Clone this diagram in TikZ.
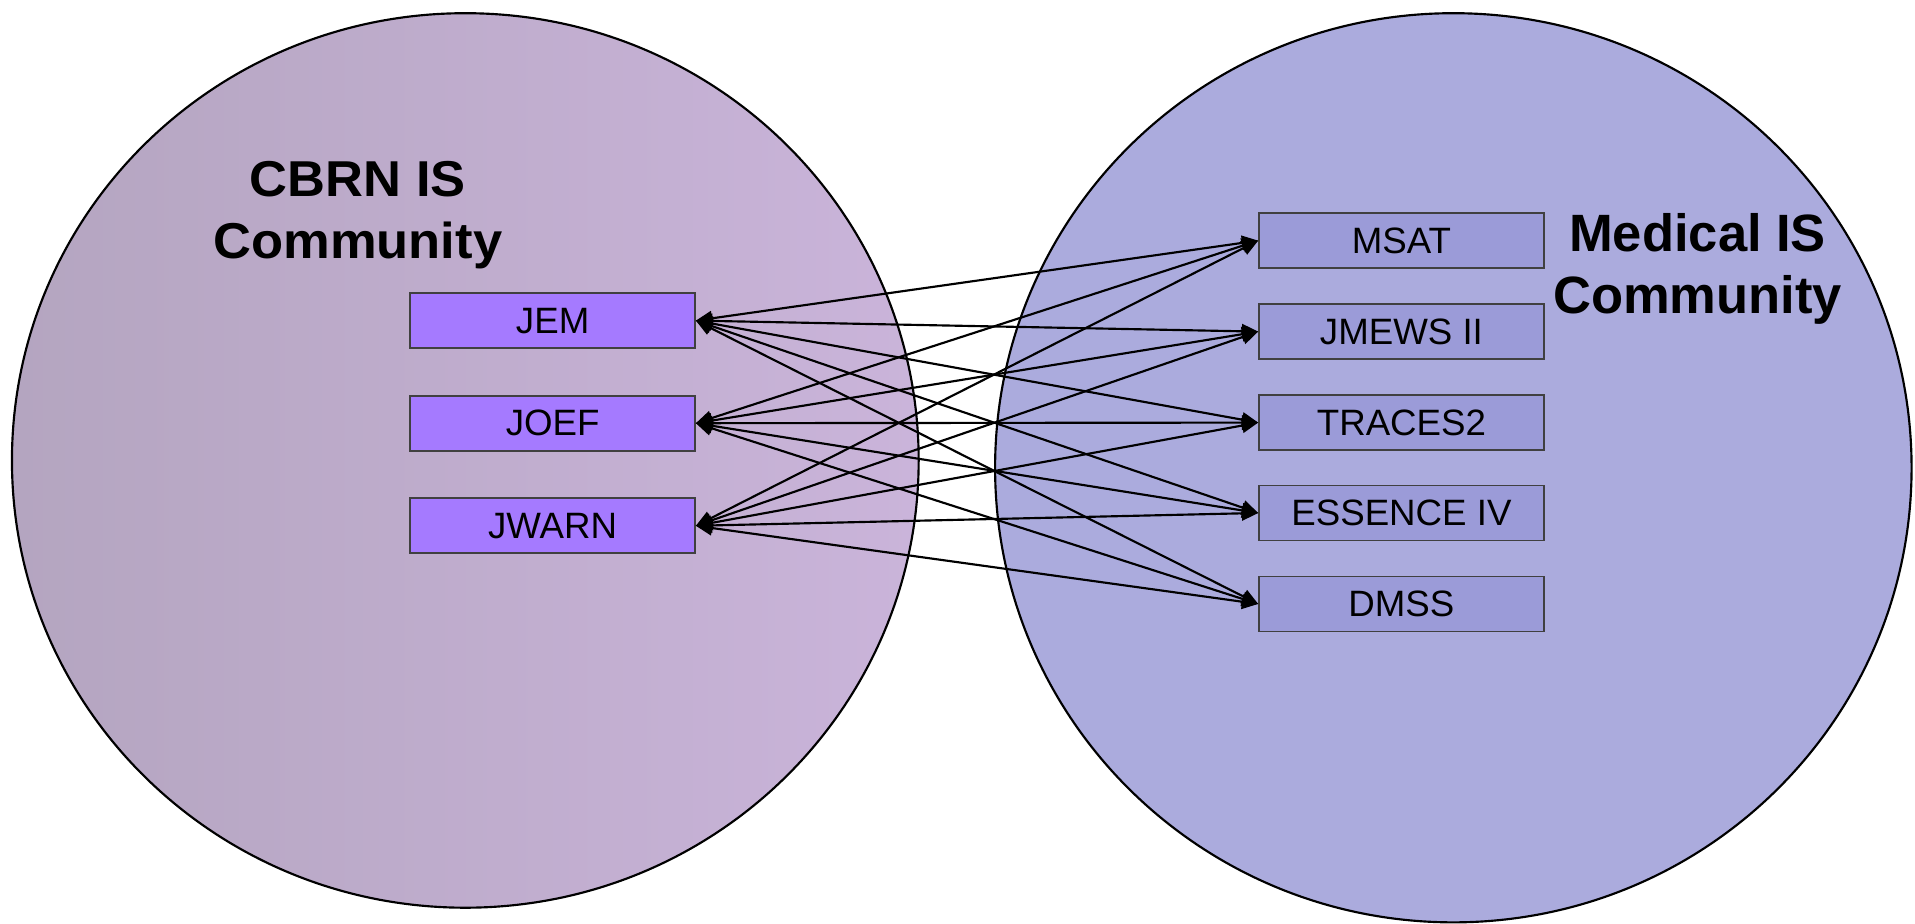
\documentclass[tikz,border=0pt]{standalone}
\usepackage{fontspec}
\setmainfont{Liberation Sans}
\usetikzlibrary{arrows.meta}
\definecolor{lellA}{RGB}{180,165,192}
\definecolor{lellB}{RGB}{202,180,218}
\definecolor{rell}{RGB}{171,171,221}
\definecolor{lbox}{RGB}{165,122,255}
\definecolor{rbox}{RGB}{155,155,216}
\begin{document}
\begin{tikzpicture}[x=0.01cm,y=-0.01cm,
  sysbox/.style={draw=black!75, line width=0.4pt, minimum width=2.33cm, minimum height=0.45cm, inner sep=0pt, font=\fontsize{8.54pt}{10pt}\selectfont},
  link/.style={line width=0.5pt, {Triangle[length=3.8pt,width=3.4pt]}-{Triangle[length=3.8pt,width=3.4pt]}},
  ttl/.style={inner sep=0pt, anchor=base, font=\fontsize{12.23pt}{14.5pt}\selectfont\bfseries}]
\useasboundingbox (0,0) rectangle (1568,756);
\fill[white] (0,0) rectangle (1568,756);
% communities
\draw[left color=lellA, right color=lellB, line width=0.5pt] (381,377) ellipse [x radius=3.71cm, y radius=3.66cm];
\draw[fill=rell, line width=0.5pt] (1190,383) ellipse [x radius=3.75cm, y radius=3.72cm];
% titles
\node[ttl, font=\fontsize{12.23pt}{15pt}\selectfont\bfseries] (cbrn) at (293,161) {\scalebox{1}[0.96]{\begin{tabular}[t]{@{}c@{}}CBRN IS\\Community\end{tabular}}};
\node[ttl] (med) at (1390,206) {\begin{tabular}[t]{@{}c@{}}Medical IS\\Community\end{tabular}};
% CBRN systems
\node[sysbox, fill=lbox] (jem) at (452.5,262.5) {JEM};
\node[sysbox, fill=lbox] (joef) at (452.5,346.5) {JOEF};
\node[sysbox, fill=lbox] (jwarn) at (452.5,430.5) {JWARN};
% medical systems
\node[sysbox, fill=rbox] (msat) at (1147.5,197) {MSAT};
\node[sysbox, fill=rbox] (jmews) at (1147.5,271.5) {JMEWS II};
\node[sysbox, fill=rbox] (traces) at (1147.5,346) {TRACES2};
\node[sysbox, fill=rbox] (essence) at (1147.5,420) {ESSENCE IV};
\node[sysbox, fill=rbox] (dmss) at (1147.5,494.5) {DMSS};
% links
\foreach \a in {jem,joef,jwarn}
  \foreach \b in {msat,jmews,traces,essence,dmss}
    \draw[link] (\a.east) -- (\b.west);
\end{tikzpicture}
\end{document}
